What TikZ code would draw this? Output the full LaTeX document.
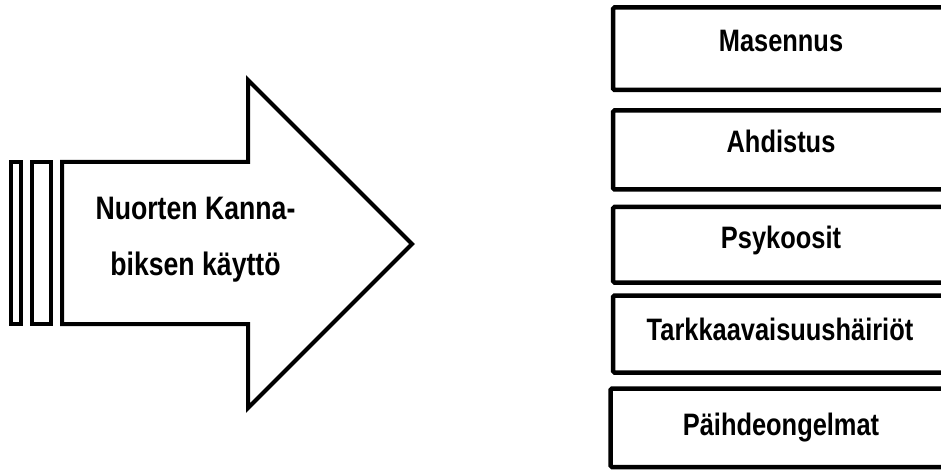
\documentclass[tikz,border=0pt]{standalone}
\usepackage{fontspec}
\newfontfamily\narrowfont[FakeStretch=0.82]{Liberation Sans}
\begin{document}
\begin{tikzpicture}[x=1pt,y=-1pt,
  outl/.style={draw=black,line width=4pt,line join=miter},
  boxr/.style={draw=black,line width=4.5pt,rounded corners=1.5pt},
  arrtxt/.style={font=\narrowfont\bfseries\fontsize{32.5}{38}\selectfont,inner sep=0pt,anchor=base},
  boxtxt/.style={font=\narrowfont\bfseries\fontsize{31}{37}\selectfont,inner sep=0pt,anchor=base}]
\useasboundingbox (0,0) rectangle (941,470);
\clip (0,0) rectangle (941,470);
% left strips
\draw[outl] (11,162) rectangle (21,324);
\draw[outl] (31.5,162) rectangle (51,324);
% arrow body
\draw[outl] (62,162) -- (248,162) -- (248,80) -- (412,244) -- (248,408) -- (248,324) -- (62,324) -- cycle;
\node[arrtxt] (t1) at (195.5,220) {Nuorten Kanna-};
\node[arrtxt] (t2) at (195.5,275) {biksen käyttö};
% boxes
\draw[boxr] (613,7.5) rectangle (955,90);
\draw[boxr] (613,110.5) rectangle (955,189.5);
\draw[boxr] (613,207) rectangle (955,282.5);
\draw[boxr] (613,295.5) rectangle (955,372.5);
\draw[boxr] (610.5,388.5) rectangle (955,467);
\node[boxtxt] (m1) at (781,52) {Masennus};
\node[boxtxt] (m2) at (781,153) {Ahdistus};
\node[boxtxt] (m3) at (781,248) {Psykoosit};
\node[boxtxt] (m4) at (780,340) {Tarkkaavaisuushäiriöt};
\node[boxtxt] (m5) at (781,435) {Päihdeongelmat};
\end{tikzpicture}
\end{document}
